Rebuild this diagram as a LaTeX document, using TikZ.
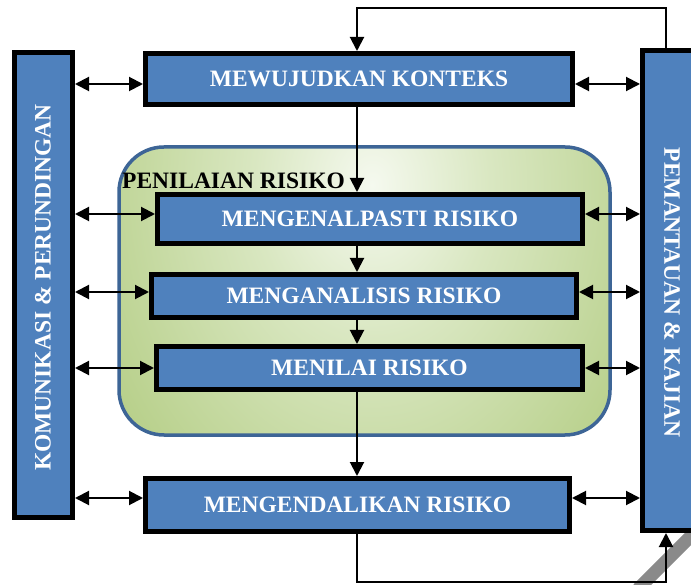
\documentclass[tikz,border=0pt]{standalone}
\usepackage{fontspec}
\setmainfont{Liberation Serif}
\usetikzlibrary{arrows.meta,calc}
\definecolor{boxblue}{HTML}{4F81BD}
\definecolor{zoneline}{HTML}{3D6596}
\definecolor{zl}{HTML}{F5F9EF}
\definecolor{zm}{HTML}{D9E7C1}
\definecolor{zn}{HTML}{B8D08B}
\definecolor{zg}{HTML}{9FBE5E}
\definecolor{stripegray}{HTML}{8A8A8A}
\pgfdeclareradialshading{zoneshade}{\pgfpointorigin}{color(0bp)=(zl); color(11bp)=(zm); color(28bp)=(zn); color(42bp)=(zg); color(100bp)=(zg)}
\newcommand\dgfont{\fontsize{23.5}{28}\selectfont\bfseries}
\begin{document}
\begin{tikzpicture}[x=1pt,y=-1pt,
  box/.style={draw=black, line width=5pt, fill=boxblue, inner sep=0pt, text=white, font=\dgfont},
  sidelabel/.style={inner sep=0pt, text=white, font=\dgfont},
  arr/.style={draw=black, line width=2pt, -{Triangle[length=14pt,width=14pt]}},
  dbl/.style={draw=black, line width=2pt, {Triangle[length=14pt,width=14pt]}-{Triangle[length=14pt,width=14pt]}}]
\useasboundingbox (0,0) rectangle (691,585);
\clip (0,0) rectangle (691,585);
\fill[white] (0,0) rectangle (691,585);
% risk assessment zone
\begin{scope}
  \clip[rounded corners=45pt] (119,147) rectangle (610,435);
  \shade[shading=zoneshade] (102,-165) rectangle (642,535);
\end{scope}
\draw[zoneline, line width=3.5pt, rounded corners=45pt] (119,147) rectangle (610,435);
\node[anchor=base west, inner sep=0pt, font=\dgfont] (penlabel) at (122,189) {PENILAIAN RISIKO};
% grey stripe
\draw[stripegray, line width=13pt] (638,589) -- (702,525);
% boxes
\node[box, minimum width=58pt, minimum height=465pt] (komu) at (43.5,285) {};
\node[sidelabel, rotate=90] (komulabel) at (43,287.5) {KOMUNIKASI \& PERUNDINGAN};
\node[box, minimum width=58pt, minimum height=480pt] (pem) at (671.5,290.5) {};
\node[sidelabel, rotate=-90] (pemlabel) at (672,292.5) {PEMANTAUAN \& KAJIAN};
\node[box, minimum width=427pt, minimum height=51pt] (konteks) at (359,79) {MEWUJUDKAN KONTEKS};
\node[box, minimum width=425pt, minimum height=49pt] (kenal) at (370,219) {MENGENALPASTI RISIKO};
\node[box, minimum width=425pt, minimum height=43pt] (analisis) at (364,296) {MENGANALISIS RISIKO};
\node[box, minimum width=426pt, minimum height=43pt] (nilai) at (369.5,368) {MENILAI RISIKO};
\node[box, minimum width=424pt, minimum height=53pt] (kendali) at (357.5,505) {MENGENDALIKAN RISIKO};
% helper coordinates
\coordinate (r1) at (0,84);
\coordinate (r2) at (0,214);
\coordinate (r3) at (0,292);
\coordinate (r4) at (0,368);
\coordinate (r5) at (0,498);
\coordinate (tl) at (357,8);
\coordinate (tr) at (666,8);
\coordinate (bl) at (357,582);
\coordinate (br) at (666,582);
% main flow
\draw[arr] (pem.north -| tr) -- (tr) -- (tl) -- (konteks.north -| tl);
\draw[arr] (konteks.south -| tl) -- (kenal.north -| tl);
\draw[arr] (kenal.south -| tl) -- (analisis.north -| tl);
\draw[arr] (analisis.south -| tl) -- (nilai.north -| tl);
\draw[arr] (nilai.south -| tl) -- (kendali.north -| tl);
\draw[arr] (kendali.south -| bl) -- (bl) -- (br) -- (pem.south -| br);
% communication / monitoring links
\draw[dbl] (komu.east |- r1) -- (konteks.west |- r1);
\draw[dbl] (komu.east |- r2) -- (kenal.west |- r2);
\draw[dbl] (komu.east |- r3) -- (analisis.west |- r3);
\draw[dbl] (komu.east |- r4) -- (nilai.west |- r4);
\draw[dbl] (komu.east |- r5) -- (kendali.west |- r5);
\draw[dbl] (konteks.east |- r1) -- (pem.west |- r1);
\draw[dbl] (kenal.east |- r2) -- (pem.west |- r2);
\draw[dbl] (analisis.east |- r3) -- (pem.west |- r3);
\draw[dbl] (nilai.east |- r4) -- (pem.west |- r4);
\draw[dbl] (kendali.east |- r5) -- (pem.west |- r5);
\end{tikzpicture}
\end{document}
